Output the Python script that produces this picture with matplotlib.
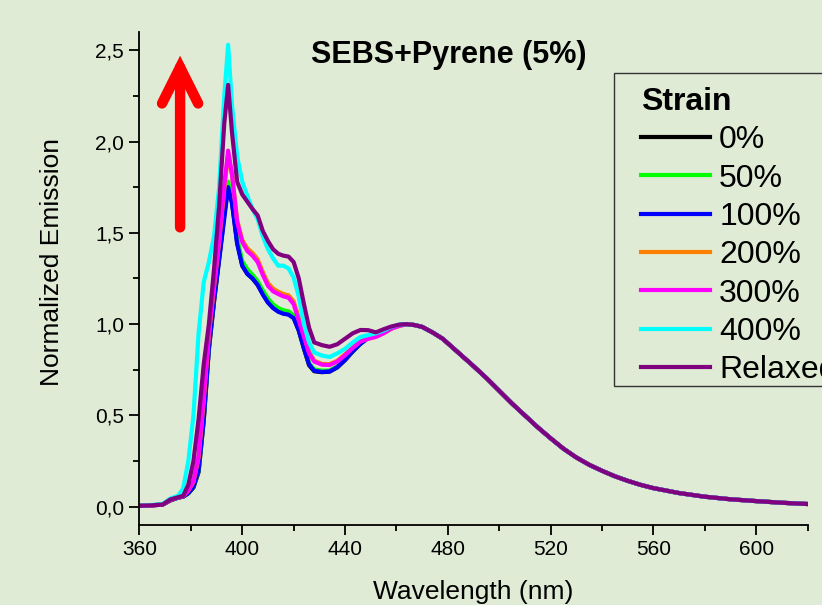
import matplotlib
matplotlib.use('Agg')
import matplotlib.pyplot as plt
from matplotlib.patches import Rectangle
from matplotlib.ticker import MultipleLocator, FuncFormatter

plt.rcParams['font.family'] = ['Liberation Sans', 'DejaVu Sans']

# wavelength grid (nm); curves differ below 470 nm and coincide above
wl_head = [360, 365, 369, 372, 375, 377, 379, 381, 383, 385, 387, 389, 391, 393, 394.5,
           396, 398, 400, 402, 404, 406, 408, 410, 412, 414, 416, 418, 420, 422, 424,
           426, 428, 431, 434, 437, 440, 443, 446, 449, 452, 455, 458, 461, 464, 467]
wl_tail = [470, 474, 478, 482, 486, 490, 495, 500, 505, 510, 515, 520, 525, 530, 535,
           540, 545, 550, 555, 560, 570, 580, 590, 600, 610, 620]

tail = [0.985, 0.955, 0.92, 0.87, 0.82, 0.77, 0.705, 0.635, 0.565, 0.5, 0.435, 0.375, 0.318,
        0.27, 0.23, 0.197, 0.167, 0.142, 0.12, 0.102, 0.075, 0.055, 0.041, 0.031, 0.022, 0.015]

s0 = [0.005, 0.008, 0.012, 0.034, 0.05, 0.055, 0.073, 0.105, 0.19, 0.47, 0.86, 1.12, 1.36, 1.6, 1.76,
      1.67, 1.45, 1.32, 1.275, 1.25, 1.215, 1.165, 1.12, 1.09, 1.07, 1.059, 1.054, 1.035, 0.965, 0.865,
      0.775, 0.742, 0.737, 0.74, 0.763, 0.803, 0.85, 0.892, 0.925, 0.94, 0.958, 0.98, 0.995, 1.0, 0.995]
s50 = [0.005, 0.008, 0.012, 0.035, 0.05, 0.056, 0.076, 0.11, 0.2, 0.49, 0.88, 1.14, 1.38, 1.62, 1.78,
       1.69, 1.47, 1.345, 1.3, 1.27, 1.235, 1.185, 1.14, 1.108, 1.088, 1.076, 1.07, 1.05, 0.975, 0.875,
       0.785, 0.752, 0.745, 0.746, 0.768, 0.808, 0.853, 0.894, 0.925, 0.94, 0.958, 0.98, 0.995, 1.0, 0.995]
s100 = [0.005, 0.008, 0.012, 0.035, 0.05, 0.055, 0.075, 0.11, 0.2, 0.48, 0.87, 1.13, 1.35, 1.58, 1.75,
        1.66, 1.44, 1.32, 1.275, 1.25, 1.215, 1.162, 1.118, 1.088, 1.068, 1.057, 1.052, 1.033, 0.965, 0.87,
        0.78, 0.745, 0.738, 0.741, 0.765, 0.805, 0.852, 0.893, 0.925, 0.94, 0.958, 0.98, 0.995, 1.0, 0.995]
s200 = [0.005, 0.008, 0.012, 0.037, 0.052, 0.058, 0.088, 0.135, 0.27, 0.58, 0.94, 1.2, 1.45, 1.74, 1.93,
        1.82, 1.57, 1.46, 1.415, 1.39, 1.355, 1.285, 1.225, 1.195, 1.178, 1.165, 1.158, 1.125, 1.035, 0.945,
        0.85, 0.8, 0.782, 0.781, 0.8, 0.835, 0.873, 0.906, 0.921, 0.931, 0.95, 0.975, 0.99, 1.0, 0.995]
s300 = [0.005, 0.008, 0.012, 0.038, 0.052, 0.058, 0.09, 0.14, 0.28, 0.6, 0.95, 1.21, 1.46, 1.76, 1.95,
        1.82, 1.56, 1.45, 1.4, 1.375, 1.34, 1.27, 1.21, 1.18, 1.165, 1.152, 1.145, 1.11, 1.02, 0.93,
        0.84, 0.795, 0.778, 0.776, 0.795, 0.83, 0.87, 0.905, 0.92, 0.93, 0.95, 0.975, 0.99, 1.0, 0.995]
s400 = [0.005, 0.01, 0.015, 0.045, 0.06, 0.1, 0.25, 0.5, 0.95, 1.23, 1.34, 1.48, 1.75, 2.25, 2.53,
        2.2, 1.92, 1.78, 1.7, 1.63, 1.575, 1.48, 1.41, 1.36, 1.32, 1.32, 1.305, 1.255, 1.15, 1.0,
        0.9, 0.845, 0.828, 0.82, 0.84, 0.865, 0.9, 0.93, 0.94, 0.95, 0.965, 0.985, 0.997, 1.0, 0.995]
s_relax = [0.005, 0.008, 0.012, 0.04, 0.052, 0.06, 0.12, 0.25, 0.48, 0.78, 1.0, 1.3, 1.65, 2.1, 2.31,
           2.05, 1.78, 1.71, 1.67, 1.63, 1.595, 1.51, 1.455, 1.41, 1.385, 1.375, 1.37, 1.34, 1.25, 1.11,
           0.98, 0.9, 0.885, 0.876, 0.89, 0.92, 0.95, 0.968, 0.967, 0.955, 0.972, 0.987, 0.997, 1.0, 0.995]

labels = ['0%', '50%', '100%', '200%', '300%', '400%', 'Relaxed']
colors = ['#000000', '#00ff00', '#0000ff', '#ff8000', '#ff00ff', '#00ffff', '#800080']
series = [s0, s50, s100, s200, s300, s400, s_relax]

bg = '#e0ebd5'
fig = plt.figure(figsize=(8.22, 6.05), dpi=100, facecolor=bg)
ax = fig.add_axes([0.1697, 0.1322, 0.8127, 0.815])
ax.set_facecolor(bg)

wl = wl_head + wl_tail
for s, lab, c in zip(series, labels, colors):
    ax.plot(wl, s + tail, color=c, lw=3.0, label=lab, solid_joinstyle='round')

ax.set_xlim(360, 620)
ax.set_ylim(-0.1, 2.6)
ax.xaxis.set_major_locator(MultipleLocator(40))
ax.xaxis.set_minor_locator(MultipleLocator(20))
ax.yaxis.set_major_locator(MultipleLocator(0.5))
ax.yaxis.set_minor_locator(MultipleLocator(0.25))
ax.yaxis.set_major_formatter(FuncFormatter(lambda v, p: f'{v:.1f}'.replace('.', ',')))

for side in ['top', 'right']:
    ax.spines[side].set_visible(False)
for side in ['left', 'bottom']:
    ax.spines[side].set_linewidth(1.3)
ax.tick_params(which='major', direction='out', length=7, width=1.3, labelsize=15, pad=4)
ax.tick_params(which='minor', direction='out', length=4, width=1.3)

ax.set_xlabel('Wavelength (nm)', fontsize=19, labelpad=15)
ax.set_ylabel('Normalized Emission', fontsize=19)
ax.yaxis.set_label_coords(-0.1135, 0.534)

ax.text(480.2, 2.474, 'SEBS+Pyrene (5%)', fontsize=22, fontweight='bold',
        ha='center', va='center')

ax.annotate('', xy=(375.8, 2.47), xytext=(375.8, 1.53),
            arrowprops=dict(arrowstyle='->,head_length=1.3,head_width=0.65',
                            color='red', lw=7.5, mutation_scale=20,
                            capstyle='round', joinstyle='miter',
                            shrinkA=0, shrinkB=0))

# legend frame runs off the right edge of the figure, as in the original
frame = Rectangle((614 / 822, 1 - 386 / 605), 0.4, (386 - 73) / 605,
                  transform=fig.transFigure, facecolor=bg, edgecolor='#333333',
                  lw=1.0, zorder=4, clip_on=False)
fig.add_artist(frame)

leg = fig.legend(*ax.get_legend_handles_labels(), loc='upper left',
                 bbox_to_anchor=(0.772, 0.8668), fontsize=23,
                 title='Strain', title_fontproperties={'weight': 'bold', 'size': 23},
                 alignment='left', frameon=False, handlelength=2.17,
                 handletextpad=0.28, labelspacing=0.26, borderpad=0.2,
                 borderaxespad=0)
leg.set_zorder(5)
for h in leg.get_lines():
    h.set_linewidth(3.0)

fig.savefig('out.png', dpi=100, facecolor=bg)
